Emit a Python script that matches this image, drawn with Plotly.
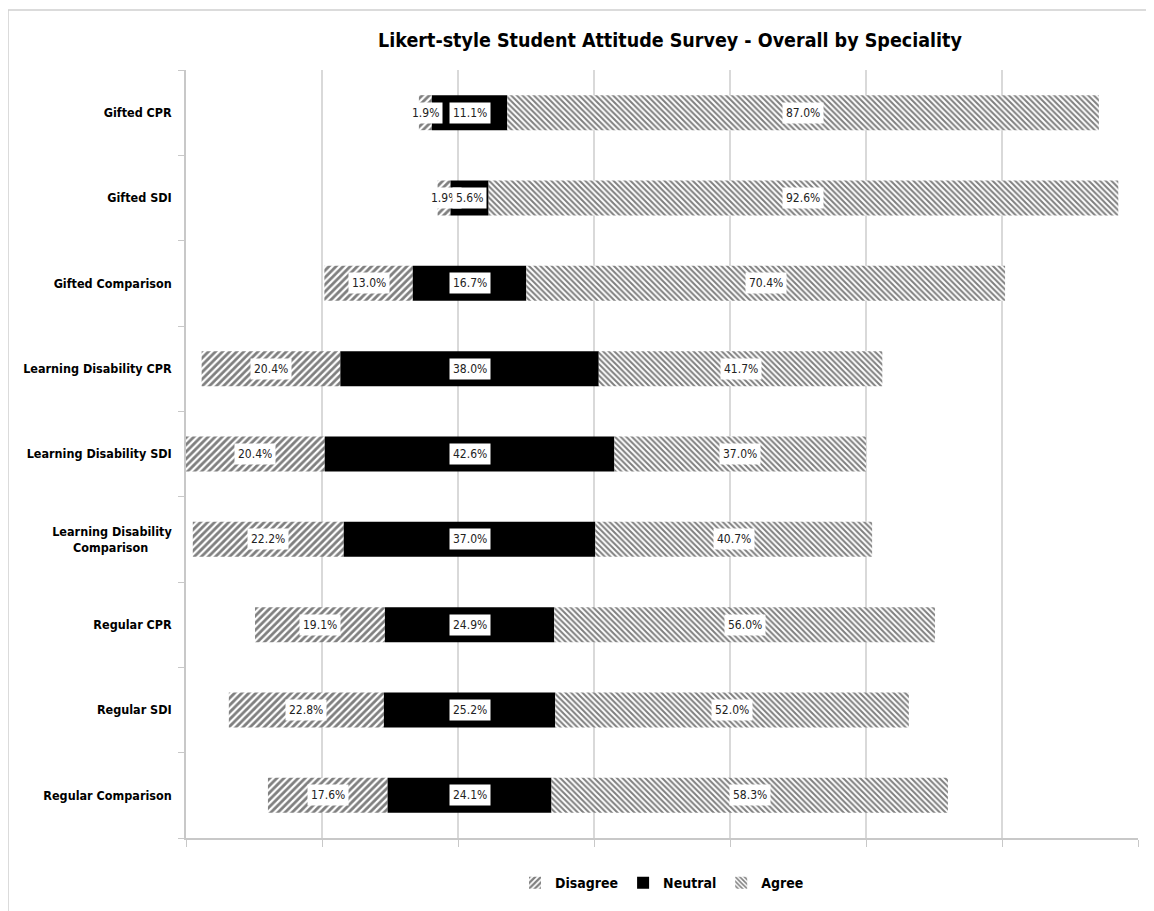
import plotly.graph_objects as go

categories = ["Gifted CPR", "Gifted SDI", "Gifted Comparison",
              "Learning Disability CPR", "Learning Disability SDI",
              "Learning Disability<br>Comparison",
              "Regular CPR", "Regular SDI", "Regular Comparison"]
disagree = [1.9, 1.9, 13.0, 20.4, 20.4, 22.2, 19.1, 22.8, 17.6]
neutral = [11.1, 5.6, 16.7, 38.0, 42.6, 37.0, 24.9, 25.2, 24.1]
agree = [87.0, 92.6, 70.4, 41.7, 37.0, 40.7, 56.0, 52.0, 58.3]
series_names = ["Disagree", "Neutral", "Agree"]

FONT = "DejaVu Sans Condensed, DejaVu Sans, sans-serif"

# Center of the neutral segment aligned (Excel-style invisible spacer)
center = max(d + n / 2 for d, n in zip(disagree, neutral))
base_d = [center - d - n / 2 for d, n in zip(disagree, neutral)]
base_n = [b + d for b, d in zip(base_d, disagree)]
base_a = [b + n for b, n in zip(base_n, neutral)]

fig = go.Figure()
fig.add_trace(go.Bar(
    y=categories, x=disagree, base=base_d, orientation="h", name=series_names[0],
    marker=dict(color="white", line=dict(width=0),
                pattern=dict(shape="/", fgcolor="black", bgcolor="white",
                             size=5, solidity=0.55)),
))
fig.add_trace(go.Bar(
    y=categories, x=neutral, base=base_n, orientation="h", name=series_names[1],
    marker=dict(color="black", line=dict(width=0)),
))
fig.add_trace(go.Bar(
    y=categories, x=agree, base=base_a, orientation="h", name=series_names[2],
    marker=dict(color="white", line=dict(width=0),
                pattern=dict(shape="\\", fgcolor="black", bgcolor="white",
                             size=4, solidity=0.5)),
))

# data labels in white boxes
for vals, bases in ((disagree, base_d), (neutral, base_n), (agree, base_a)):
    for cat, v, b in zip(categories, vals, bases):
        fig.add_annotation(
            x=b + v / 2, y=cat, xref="x", yref="y",
            text=f"{v:.1f}%", showarrow=False,
            font=dict(family=FONT, size=12, color="#222222"),
            bgcolor="white", borderpad=3,
        )

# page body adds ~8px offset; margins compensate
ML, MR, MT, MB = 178, 24, 62, 81
W, H = 1154, 911
pw, ph = W - ML - MR, H - MT - MB

# chart area border (partially visible)
fig.add_shape(type="rect", xref="paper", yref="paper",
              x0=(0 - ML) / pw, x1=(W + 20 - ML) / pw,
              y0=-(H + 20 - MT - ph) / ph, y1=1 + (MT - 2) / ph,
              line=dict(color="#d0d0d0", width=1.5), layer="below")

ticktext = []
for c in categories:
    if "<br>" in c:
        a, b = c.split("<br>")
        c = a + "<br>" + b + "\u00a0" * 6
    ticktext.append(f"<b>{c}</b>")

fig.update_layout(
    width=W, height=H,
    barmode="overlay", bargap=0.59,
    plot_bgcolor="white", paper_bgcolor="white",
    margin=dict(l=ML, r=MR, t=MT, b=MB, autoexpand=False),
    title=dict(text="<b>Likert-style Student Attitude Survey - Overall by Speciality</b>",
               x=0.5 + 8 / pw, xref="paper", xanchor="center",
               y=1 - 32 / H, yref="container", yanchor="middle",
               font=dict(family=FONT, size=19.5, color="black")),
    showlegend=True,
    legend=dict(orientation="h", x=0.5, xanchor="center", y=-0.038, yanchor="top",
                font=dict(family=FONT, size=14, color="black", weight="bold"),
                traceorder="normal"),
    font=dict(family=FONT),
)
fig.update_xaxes(range=[0, 140], dtick=20, tick0=0, showticklabels=False,
                 showgrid=True, gridcolor="#d9d9d9", gridwidth=1.5,
                 showline=True, linecolor="#c8c8c8", linewidth=1.5,
                 ticks="outside", ticklen=7, tickcolor="#c8c8c8", zeroline=False)
fig.update_yaxes(categoryorder="array", categoryarray=categories, autorange="reversed",
                 showline=True, linecolor="#c8c8c8", linewidth=1.5,
                 ticks="outside", ticklen=6, tickcolor="#c8c8c8", tickson="boundaries",
                 tickfont=dict(family=FONT, size=12.5, color="black"),
                 showgrid=False, ticklabelstandoff=10, automargin=False,
                 tickvals=categories, ticktext=ticktext)

fig.write_html("out.html")
